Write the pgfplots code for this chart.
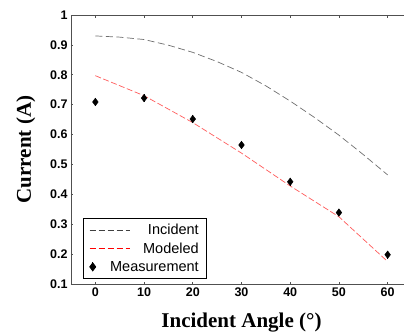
\documentclass[border=0pt]{standalone}
\usepackage{pgfplots}
\pgfplotsset{compat=1.18}
\usepackage{fontspec}
\setmainfont{Liberation Serif}
\setsansfont{Liberation Sans}
\definecolor{incgray}{RGB}{110,110,110}
\definecolor{modred}{RGB}{255,90,90}
\definecolor{axgray}{RGB}{80,80,80}
\begin{document}
\begin{tikzpicture}
\begin{axis}[
  scale only axis,
  width=341pt, height=269pt,
  xmin=-5, xmax=65, ymin=0.1, ymax=1,
  xtick={0,10,20,30,40,50,60},
  ytick={0.1,0.2,0.3,0.4,0.5,0.6,0.7,0.8,0.9,1},
  yticklabels={0.1,0.2,0.3,0.4,0.5,0.6,0.7,0.8,0.9,1},
  major tick length=2.5pt,
  tick style={axgray, line width=0.8pt},
  axis line style={axgray, line width=0.9pt},
  ticklabel style={font=\sffamily\bfseries\fontsize{12.5}{12.5}\selectfont},
  /pgf/number format/assume math mode=true,
  xlabel={Incident Angle (°)},
  ylabel={Current (A)},
  label style={font=\rmfamily\bfseries\fontsize{21}{21}\selectfont},
  xlabel style={yshift=-10pt},
  ylabel style={yshift=8pt},
  legend style={at={(axis cs:-2.55,0.1)}, anchor=south west, yshift=5pt,
    draw=black, line width=0.8pt, font=\sffamily\fontsize{14.5}{14.5}\selectfont,
    row sep=2.5pt, column sep=0pt, inner xsep=6pt, inner ysep=4pt,
    nodes={inner xsep=2pt}},
  legend cell align=right,
]
\addplot[draw=incgray, line width=0.7pt, dash pattern=on 7pt off 3.5pt,
  legend image code/.code={\path (0pt,0pt) (18pt,0pt); \color{black!75}\draw[overlay, color=black!75, line width=1pt, dash pattern=on 6pt off 3pt] (0pt,0pt) -- (40pt,0pt);}] coordinates {
 (0,0.930) (5,0.926) (10,0.918) (15,0.899) (20,0.875) (25,0.844) (30,0.808) (35,0.763) (40,0.712) (45,0.657) (50,0.598) (55,0.533) (60,0.465)};
\addlegendentry{Incident}
\addplot[draw=modred, line width=0.7pt, dash pattern=on 6pt off 2.5pt,
  legend image code/.code={\path (0pt,0pt) (18pt,0pt); \color{red}\draw[overlay, color=red, line width=1.3pt, dash pattern=on 6pt off 3pt] (0pt,0pt) -- (40pt,0pt);}] coordinates {
 (0,0.797) (10,0.730) (20,0.640) (30,0.538) (40,0.428) (50,0.325) (60,0.175)};
\addlegendentry{Modeled}
\addplot[only marks, mark=diamond*, mark size=3.8pt, black,
  legend image code/.code={\path (0pt,0pt) (18pt,0pt); \draw[black, line width=1pt] (3pt,-4.5pt) -- (3pt,4.5pt); \fill[black] (0pt,0pt) -- (3pt,4pt) -- (6pt,0pt) -- (3pt,-4pt) -- cycle;},
  error bars/.cd, y dir=both, y fixed=0.013, error mark=none,
  error bar style={line width=1pt}] coordinates {
 (0,0.709) (10,0.722) (20,0.652) (30,0.565) (40,0.442) (50,0.339) (60,0.198)};
\addlegendentry{Measurement}
\end{axis}
\pgfresetboundingbox
\path[use as bounding box] ([shift={(-71pt,-51pt)}]current axis.south west) rectangle ([shift={(333pt,284pt)}]current axis.south west);
\end{tikzpicture}
\end{document}
